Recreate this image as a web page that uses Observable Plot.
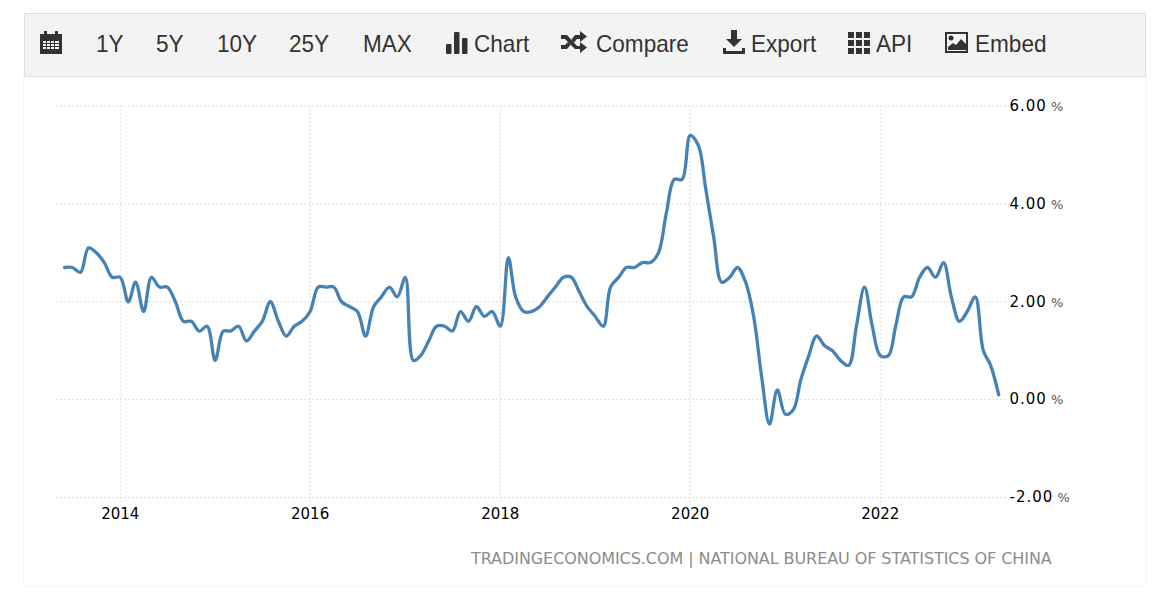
<!DOCTYPE html>
<html><head><meta charset="utf-8">
<script src="https://cdn.jsdelivr.net/npm/d3@7"></script>
<script src="https://cdn.jsdelivr.net/npm/@observablehq/plot@0.6"></script>
<style>
html,body{margin:0;padding:0;background:#fff;overflow:hidden}
#page{position:relative;width:1162px;height:599px;overflow:hidden}
#panel{position:absolute;left:23px;top:76px;width:1122px;height:510px;border:1px solid #f4f4f4;border-top:0}
#bar{position:absolute;left:24px;top:13px;width:1120px;height:62px;background:#f3f3f3;border:1px solid #dfdfdf}
.t{position:absolute;top:28px;font:24px/32px "Liberation Sans",Arial,sans-serif;color:#333;white-space:nowrap;transform:scaleX(.94);transform-origin:left center}
.i{position:absolute;fill:#333}
#src{position:absolute;left:471px;top:548px;font:16px/22px "DejaVu Sans",sans-serif;color:#8c8c8c;white-space:nowrap;letter-spacing:-.07px}
#chart{position:absolute;left:0;top:76px}
#chart svg{background:transparent}
</style></head><body>
<div id="page">
<div id="panel"></div>
<div id="bar"></div>
<svg class="i" style="left:40px;top:30px" width="22" height="24" viewBox="0 0 22 24"><path d="M0 4h4V1h3v3h8V1h3v3h4v20H0z"/><path fill="#f3f3f3" d="M3 11h3v2H3zM7 11h3v2H7zM11 11h3v2h-3zM15 11h4v2h-4zM3 14h3v2H3zM7 14h3v2H7zM11 14h3v2h-3zM15 14h4v2h-4zM3 17h3v2H3zM7 17h3v2H7zM11 17h3v2h-3zM15 17h4v2h-4z"/></svg>
<span class="t" style="left:96px">1Y</span>
<span class="t" style="left:156px">5Y</span>
<span class="t" style="left:217px">10Y</span>
<span class="t" style="left:289px">25Y</span>
<span class="t" style="left:363px">MAX</span>
<svg class="i" style="left:446px;top:32px" width="22" height="22" viewBox="0 0 22 22"><rect x="0" y="12" width="5.500" height="10" rx="1"/><rect x="8" y="0" width="5.500" height="22" rx="1"/><rect x="16" y="6" width="5.500" height="16" rx="1"/></svg>
<span class="t" style="left:474px">Chart</span>
<svg class="i" style="left:561px;top:31px" width="26" height="22" viewBox="0 0 26 22"><path d="M0 4h6l10 11h3v-4l7 5.500-7 5.500v-4h-5L4 8H0zM0 14h4l3-3 2.500 3L6 18H0zM14 4h5V0l7 5.500-7 5.500V8h-3l-3 3.500-2.500-3z"/></svg>
<span class="t" style="left:596px">Compare</span>
<svg class="i" style="left:723px;top:30px" width="22" height="24" viewBox="0 0 22 24"><path d="M8 0h6v9h5l-8 8-8-8h5zM0 18h3v3h16v-3h3v6H0z"/></svg>
<span class="t" style="left:751px">Export</span>
<svg class="i" style="left:848px;top:32px" width="22" height="22" viewBox="0 0 22 22"><path d="M0 0h6v6H0zM8 0h6v6H8zM16 0h6v6h-6zM0 8h6v6H0zM8 8h6v6H8zM16 8h6v6h-6zM0 16h6v6H0zM8 16h6v6H8zM16 16h6v6h-6z"/></svg>
<span class="t" style="left:876px">API</span>
<svg class="i" style="left:945px;top:32px" width="23" height="21" viewBox="0 0 23 21"><path fill-rule="evenodd" d="M0 0h23v21H0zM2 2v17h19V2z"/><circle cx="6" cy="6" r="2.500"/><path d="M3 18v-3l5-4 3 2 5-6 5 5v6z"/></svg>
<span class="t" style="left:975px">Embed</span>
<div id="chart"></div>
<div id="src">TRADINGECONOMICS.COM | NATIONAL BUREAU OF STATISTICS OF CHINA</div>
</div>
<script>
const firstYear = 2013, firstMonth = 6;
const inflation = [
 2.7,2.7,2.6,3.1,3.0,2.8,2.5,
 2.5,2.0,2.4,1.8,2.5,2.3,2.3,2.0,1.6,1.6,1.4,1.5,
 0.8,1.4,1.4,1.5,1.2,1.4,1.6,2.0,1.6,1.3,1.5,1.6,
 1.8,2.3,2.3,2.3,2.0,1.9,1.8,1.3,1.9,2.1,2.3,2.1,
 2.5,0.8,0.9,1.2,1.5,1.5,1.4,1.8,1.6,1.9,1.7,1.8,
 1.5,2.9,2.1,1.8,1.8,1.9,2.1,2.3,2.5,2.5,2.2,1.9,
 1.7,1.5,2.3,2.5,2.7,2.7,2.8,2.8,3.0,3.8,4.5,4.5,
 5.4,5.2,4.3,3.3,2.4,2.5,2.7,2.4,1.7,0.5,-0.5,0.2,
 -0.3,-0.2,0.4,0.9,1.3,1.1,1.0,0.8,0.7,1.5,2.3,1.5,
 0.9,0.9,1.5,2.1,2.1,2.5,2.7,2.5,2.8,2.1,1.6,1.8,
 2.1,1.0,0.7,0.1
];
const dates = inflation.map((_, i) => new Date(Date.UTC(firstYear, firstMonth - 1 + i, 1)));
const rows = inflation.map((v, i) => ({date: dates[i], value: v}));
const yearTicks = ["2014-01-01","2016-01-01","2018-01-01","2020-01-01","2022-01-01"].map(d => new Date(d));
const valueTicks = [-2, 0, 2, 4, 6];
const xDomain = [new Date("2013-05-01"), new Date("2023-05-01")];

const grid = {stroke: "#dcdcdc", strokeWidth: 1, strokeDasharray: "2,2"};
const plot = Plot.plot({
  width: 1162, height: 460,
  marginTop: 29.5, marginBottom: 39, marginLeft: 56, marginRight: 156,
  style: {fontFamily: "'DejaVu Sans',sans-serif", color: "#000", background: "transparent", overflow: "visible"},
  x: {type: "utc", domain: xDomain, label: null},
  y: {domain: [-2, 6], label: null},
  marks: [
    Plot.ruleY(valueTicks, grid),
    Plot.ruleX(yearTicks, {y1: -2.12, y2: 6, ...grid}),
    Plot.axisX({ticks: yearTicks, tickSize: 0, tickPadding: 11, fontSize: 15, tickFormat: d => String(d.getUTCFullYear()), label: null}),
    Plot.axisY({anchor: "right", ticks: valueTicks, tickSize: 0, tickPadding: 3, fontSize: 15, tickFormat: d => d.toFixed(2) + " %", label: null}),
    Plot.line(rows, {x: "date", y: "value", stroke: "#4682b4", strokeWidth: 3.3, curve: "catmull-rom"})
  ]
});
document.getElementById("chart").append(plot);
d3.select(plot).selectAll('[aria-label="y-axis tick label"] text').each(function () {
  const s = this.textContent, sel = d3.select(this);
  sel.text(null);
  sel.append("tspan").attr("letter-spacing", "1px").text(s.slice(0, -2));
  sel.append("tspan").attr("fill", "#555").attr("font-size", "13px").text(" %");
});
</script>
</body></html>
